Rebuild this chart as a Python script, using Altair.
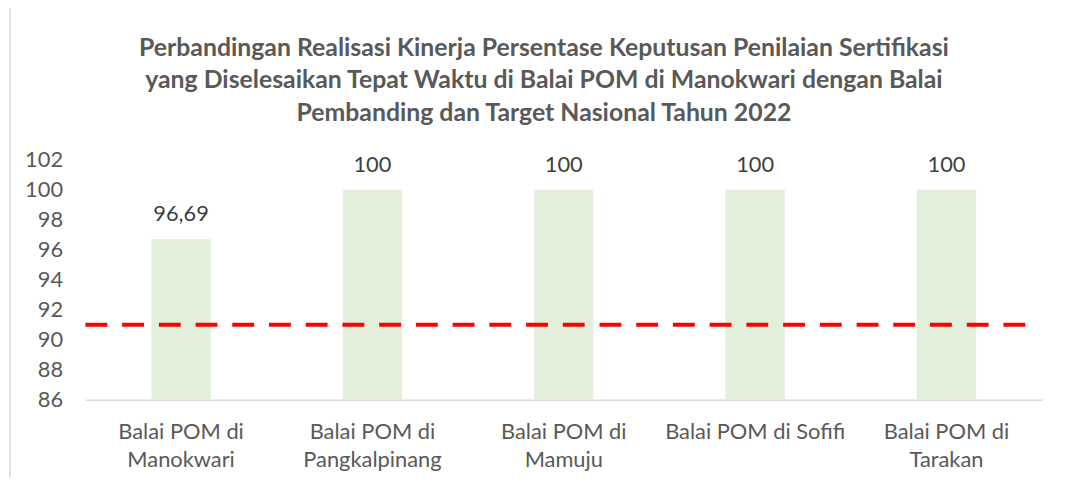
import altair as alt
import pandas as pd

categories = ["Balai POM di|Manokwari", "Balai POM di|Pangkalpinang", "Balai POM di|Mamuju",
              "Balai POM di Sofifi", "Balai POM di|Tarakan"]
values = [96.69, 100, 100, 100, 100]
value_labels = ["96,69", "100", "100", "100", "100"]
target = 91
y_ticks = [86, 88, 90, 92, 94, 96, 98, 100, 102]
title_lines = ["Perbandingan Realisasi Kinerja Persentase Keputusan Penilaian Sertifikasi",
               "yang Diselesaikan Tepat Waktu di Balai POM di Manokwari dengan Balai",
               "Pembanding dan Target Nasional Tahun 2022"]

df = pd.DataFrame({"cat": categories, "val": values, "lab": value_labels, "base": [86] * 5})
tdf = pd.DataFrame({"t": [target]})

FONT = "Lato"
GREY = "#595959"
W, H = 964, 242
FS = 22

x_axis = alt.Axis(labelAngle=0, domainColor="#d9d9d9", domainWidth=1.5, ticks=False,
                  labelPadding=32, labelFontSize=FS, labelColor=GREY, labelFont=FONT,
                  labelLineHeight=28, labelBaseline="middle", labelLimit=300,
                  labelExpr="split(datum.label, '|')")
y_axis = alt.Axis(values=y_ticks, domain=False, ticks=False, grid=False, labelOverlap=False,
                  labelPadding=23, labelFontSize=FS, labelColor=GREY, labelFont=FONT)
y_scale = alt.Scale(domain=[86, 102], nice=False, zero=False)
x_scale = alt.Scale(paddingInner=0.69, paddingOuter=0.345)

x = alt.X("cat:N", sort=None, title=None, scale=x_scale, axis=x_axis)

bars = alt.Chart(df).mark_bar(color="#E2EFDA").encode(
    x=x, y=alt.Y("val:Q", title=None, scale=y_scale, axis=y_axis), y2="base:Q")
text = alt.Chart(df).mark_text(dy=-25, fontSize=FS, color="#404040", font=FONT,
                               baseline="middle").encode(
    x=x, y=alt.Y("val:Q", title=None, scale=y_scale, axis=y_axis), text="lab:N")
rule = alt.Chart(tdf).mark_rule(color="#FF0000", strokeWidth=4, strokeDash=[22, 15]).encode(
    y=alt.Y("t:Q", title=None, scale=y_scale, axis=y_axis), x=alt.value(0), x2=alt.value(954))
border = alt.Chart(tdf).mark_rule(color="#d9d9d9", strokeWidth=1.5).encode(
    x=alt.value(-76), y=alt.value(-170), y2=alt.value(H + 100))

chart = alt.layer(bars, rule, text, border).properties(
    width=W, height=H,
    title=alt.TitleParams(title_lines, fontSize=25, font=FONT, fontWeight="bold", color=GREY,
                          anchor="middle", frame="group", offset=-137, lineHeight=33, dx=-20),
    autosize=alt.AutoSizeParams(type="none"),
    padding={"left": 78, "top": 151, "right": 20, "bottom": 77},
).configure_view(stroke=None)

chart.save("out.html", embed_options={"renderer": "svg", "actions": False})
